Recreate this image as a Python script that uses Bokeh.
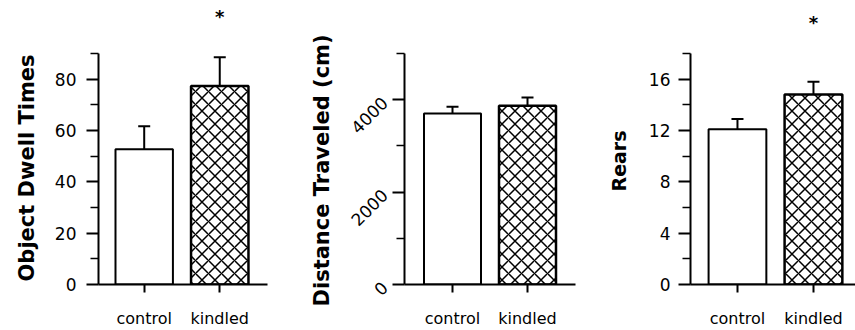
import math
from bokeh.plotting import figure
from bokeh.models import (ColumnDataSource, Whisker, TeeHead, FixedTicker, Label,
                          Range1d, Title)
from bokeh.layouts import row
from bokeh.embed import file_html
from bokeh.resources import INLINE

# ---- data ----
groups = ["control", "kindled"]

dwell_mean = [52.7, 77.3]
dwell_sem = [9.0, 11.2]
dwell_ticks = [0, 20, 40, 60, 80]
dwell_minor = [10, 30, 50, 70, 90]

distance_mean = [3700, 3870]
distance_sem = [150, 180]
distance_ticks = [0, 2000, 4000]
distance_minor = [1000, 3000, 5000]

rears_mean = [12.1, 14.8]
rears_sem = [0.8, 1.0]
rears_ticks = [0, 4, 8, 12, 16]
rears_minor = [2, 6, 10, 14, 18]

dwell_sig = [False, True]
distance_sig = [False, False]
rears_sig = [False, True]

# ---- styles per group ----
HATCH = {"control": "blank", "kindled": "diagonal_cross"}
LW = {"control": 2, "kindled": 2.5}

FONT = "DejaVu Sans"
TOP = 5          # frame top (px)
AXIS_TOP = 53    # where the drawn axis ends (px)
BOTTOM = 284     # y = 0 (px)
H = 330


def panel(ylabel, means, sems, ticks, minor, ymax, sig, width, bl, br,
          xr, label_size, orient, star_y, t_standoff, t_offset, mls):
    y_end = ymax * (BOTTOM - TOP) / (BOTTOM - AXIS_TOP)
    p = figure(width=width, height=H, output_backend="svg",
               toolbar_location=None, x_range=Range1d(*xr),
               y_range=Range1d(0, y_end),
               min_border_left=bl, min_border_right=br,
               min_border_top=TOP, min_border_bottom=H - BOTTOM)
    p.outline_line_color = None
    p.grid.visible = False
    p.background_fill_color = "white"
    p.border_fill_color = "white"

    xs = [i + 1 for i in range(len(groups))]
    src = ColumnDataSource(dict(
        x=xs, top=means,
        upper=[m + s for m, s in zip(means, sems)],
        hatch=[HATCH[g] for g in groups],
        lw=[LW[g] for g in groups],
    ))
    p.vbar(x="x", top="top", width=0.76, source=src, fill_color="white",
           line_color="black", line_width="lw", hatch_pattern="hatch",
           hatch_color="black", hatch_scale=13, hatch_weight=1.5)
    p.add_layout(Whisker(source=src, base="x", lower="top", upper="upper",
                         dimension="height", line_color="black", line_width=2,
                         lower_head=None,
                         upper_head=TeeHead(size=12, line_width=2, line_color="black")))

    for i, s in enumerate(sig):
        if s:
            p.add_layout(Label(x=xs[i], y=star_y, text="*", text_align="center",
                               text_baseline="middle", text_font=FONT,
                               text_font_size="18px", text_font_style="bold",
                               text_color="black"))

    # x axis
    xa = p.xaxis[0]
    xa.ticker = FixedTicker(ticks=xs)
    xa.major_label_overrides = {x: g for x, g in zip(xs, groups)}
    xa.axis_line_width = 2
    xa.major_tick_line_width = 2
    xa.major_tick_in = 0
    xa.major_tick_out = 8
    xa.minor_tick_line_color = None
    xa.major_label_text_font = FONT
    xa.major_label_text_font_size = "16px"
    xa.major_label_text_color = "black"
    xa.major_label_standoff = 16

    # y axis
    ya = p.yaxis[0]
    ya.bounds = (0, ymax)
    ya.ticker = FixedTicker(ticks=ticks, minor_ticks=minor)
    ya.axis_line_width = 2
    ya.major_tick_line_width = 2
    ya.major_tick_in = 0
    ya.major_tick_out = 12
    ya.minor_tick_line_width = 1.5
    ya.minor_tick_in = 0
    ya.minor_tick_out = 8
    ya.major_label_text_font = FONT
    ya.major_label_text_font_size = "17px"
    ya.major_label_text_color = "black"
    ya.major_label_standoff = mls
    if orient is not None:
        ya.major_label_orientation = orient

    # y-axis title, centred on the drawn axis rather than on the taller frame
    p.add_layout(Title(text=ylabel, align="left", offset=t_offset,
                       standoff=t_standoff, text_font=FONT,
                       text_font_size=label_size, text_font_style="bold",
                       text_color="black"), "left")
    return p


p1 = panel("Object Dwell Times", dwell_mean, dwell_sem, dwell_ticks, dwell_minor,
           90, dwell_sig, 300, 97, 33, (0.395, 2.632), "21px", None, 104.5, 25, 3, 10)
p2 = panel("Distance Traveled (cm)", distance_mean, distance_sem, distance_ticks,
           distance_minor, 5000, distance_sig, 290, 104, 15, (0.36, 2.64), "21px",
           math.pi / 4, 5600, 15, -22, 8)
p3 = panel("Rears", rears_mean, rears_sem, rears_ticks, rears_minor,
           18, rears_sig, 265, 100, 0, (0.382, 2.553), "19px", None, 20.4, 31, 93, 8)

layout = row(p1, p2, p3, spacing=0)
open("out.html", "w").write(file_html(layout, INLINE))
